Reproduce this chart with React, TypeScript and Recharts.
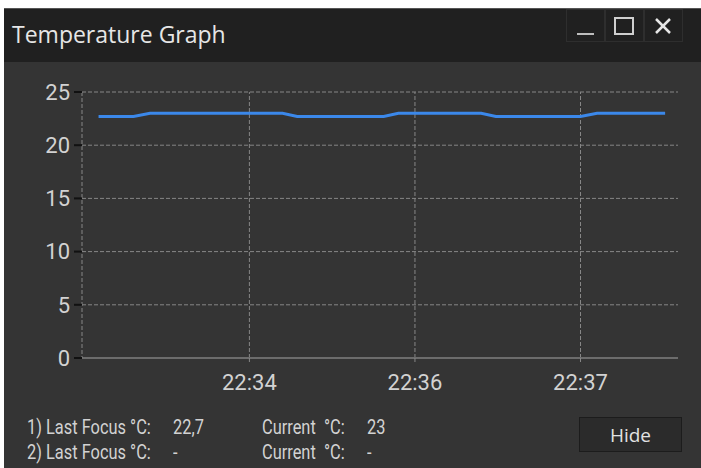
import React from 'react';
import { LineChart, Line, XAxis, YAxis, CartesianGrid, ReferenceLine } from 'recharts';

// ─── Data ─────────────────────────────────────────────────────────────────────

// seconds since the left edge of the plot
const timeSec = [9, 28, 37, 109, 117, 164, 172, 217, 225, 271, 280, 317];
const tempC = [22.7, 22.7, 23, 23, 22.7, 22.7, 23, 23, 22.7, 22.7, 23, 23];

const xTickSec = [91, 181, 271];
const xTickLabels = ['22:34', '22:36', '22:37'];
const yTicks = [0, 5, 10, 15, 20, 25];

const readoutLabels = ['1) Last Focus °C:', '2) Last Focus °C:'];
const lastFocus = ['22,7', '-'];
const currentVals = ['23', '-'];

const data = timeSec.map((t, i) => ({ t, temp: tempC[i] }));

// ─── Styles ───────────────────────────────────────────────────────────────────

const TEXT = '#d2d2d2';
const GRID = '#868686';
const UI = "'Open Sans', 'Noto Sans', sans-serif";
const AXIS_FONT = 'Roboto, sans-serif';

function Narrow({ left, top, children }: { left: number; top: number; children: React.ReactNode }) {
  return (
    <div style={{
      position: 'absolute', left, top, fontFamily: 'Roboto, sans-serif', fontSize: 20, color: TEXT,
      whiteSpace: 'nowrap', transform: 'scaleX(0.82)', transformOrigin: 'left center',
    }}>
      {children}
    </div>
  );
}

function WinButton({ left, children }: { left: number; children: React.ReactNode }) {
  return (
    <div style={{
      position: 'absolute', left, top: 9, width: 39, height: 33,
      border: '1px solid #2e2e2e', boxSizing: 'border-box',
    }}>
      <svg width={39} height={33} style={{ position: 'absolute', left: -1, top: -1 }}>{children}</svg>
    </div>
  );
}

export default function App() {
  return (
    <div style={{ position: 'absolute', left: 0, top: 0, width: 701, height: 468, background: '#ffffff', overflow: 'hidden' }}>
      {/* window */}
      <div style={{ position: 'absolute', left: 4, top: 8, width: 697, height: 460, background: '#343434', borderTop: '1px solid #555' }} />
      {/* title bar */}
      <div style={{ position: 'absolute', left: 4, top: 9, width: 697, height: 53, background: '#202020' }} />
      <div style={{ position: 'absolute', left: 12, top: 18, fontFamily: UI, fontSize: 23, lineHeight: '32px', color: '#e6e6e6', whiteSpace: 'nowrap' }}>
        Temperature Graph
      </div>
      <WinButton left={566}>
        <line x1={11} y1={25} x2={28} y2={25} stroke="#bdbdbd" strokeWidth={2} />
      </WinButton>
      <WinButton left={605}>
        <rect x={10} y={9} width={18} height={16} fill="none" stroke="#cfcfcf" strokeWidth={2} />
      </WinButton>
      <WinButton left={644}>
        <line x1={12} y1={10} x2={26} y2={24} stroke="#e6e6e6" strokeWidth={2.5} />
        <line x1={26} y1={10} x2={12} y2={24} stroke="#e6e6e6" strokeWidth={2.5} />
      </WinButton>

      {/* chart */}
      <div style={{ position: 'absolute', left: 0, top: 0 }}>
        <LineChart width={701} height={420} data={data} margin={{ top: 92, right: 23, left: 22, bottom: 32 }}>
          <CartesianGrid stroke={GRID} strokeDasharray="4 2" vertical={false} />
          {xTickSec.map((x) => (
            <ReferenceLine key={x} x={x} stroke={GRID} strokeDasharray="4 2" />
          ))}
          <XAxis
            dataKey="t"
            type="number"
            domain={[0, 324]}
            ticks={xTickSec}
            tickFormatter={(v: number) => xTickLabels[xTickSec.indexOf(v)] ?? ''}
            height={30}
            axisLine={{ stroke: '#6c6c6c', strokeWidth: 2 }}
            tickLine={{ stroke: GRID }}
            tickSize={4}
            tickMargin={12}
            tick={{ fill: TEXT, fontSize: 22, fontFamily: AXIS_FONT }}
            interval={0}
          />
          <YAxis
            type="number"
            domain={[0, 25]}
            ticks={yTicks}
            width={60}
            axisLine={{ stroke: GRID, strokeDasharray: '4 2' }}
            tickLine={{ stroke: '#111111', strokeWidth: 2 }}
            tickSize={8}
            tickMargin={4}
            tick={{ fill: TEXT, fontSize: 22, fontFamily: AXIS_FONT }}
            interval={0}
          />
          <Line
            type="linear"
            dataKey="temp"
            stroke="#3b88ea"
            strokeWidth={3}
            dot={false}
            isAnimationActive={false}
          />
        </LineChart>
      </div>

      {/* readouts */}
      {readoutLabels.map((lab, i) => (
        <React.Fragment key={i}>
          <Narrow left={27} top={415 + i * 25}>{lab}</Narrow>
          <Narrow left={173} top={415 + i * 25}>{lastFocus[i]}</Narrow>
          <Narrow left={262} top={415 + i * 25}>Current&nbsp;&nbsp;°C:</Narrow>
          <Narrow left={367} top={415 + i * 25}>{currentVals[i]}</Narrow>
        </React.Fragment>
      ))}

      {/* Hide button */}
      <div style={{
        position: 'absolute', left: 579, top: 417, width: 103, height: 35, boxSizing: 'border-box',
        background: '#2b2b2b', border: '1px solid #1c1c1c', color: '#e2e2e2',
        fontFamily: UI, fontSize: 19, fontWeight: 500, display: 'flex', alignItems: 'center', justifyContent: 'center',
      }}>
        Hide
      </div>
    </div>
  );
}
